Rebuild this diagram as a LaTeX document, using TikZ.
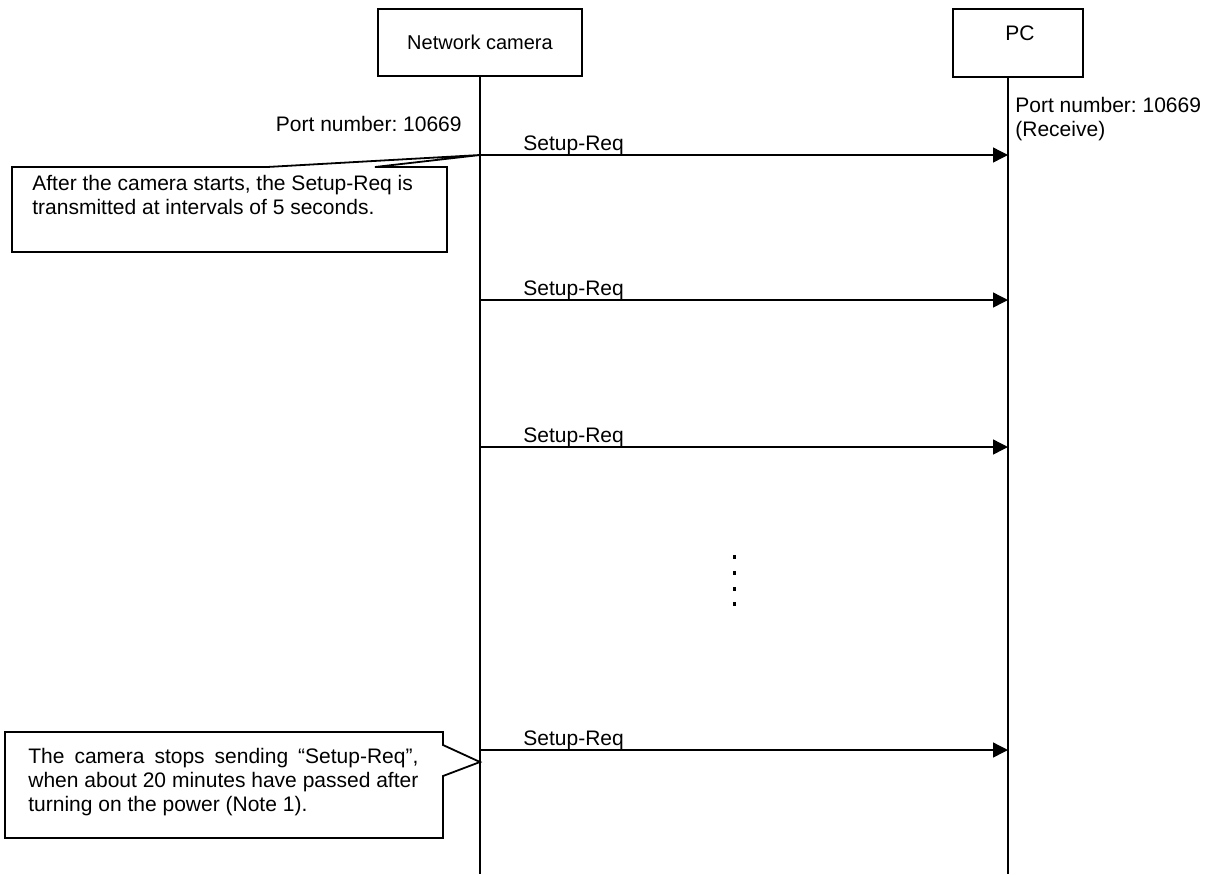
\documentclass[tikz,border=0pt]{standalone}
\usepackage{fontspec}
\setmainfont{Liberation Sans}
\frenchspacing
\usetikzlibrary{arrows.meta}
\tikzset{party/.style={draw,line width=1pt,minimum width=102pt,minimum height=33.5pt,inner sep=0pt},
life/.style={line width=1pt},
msg/.style={-{Triangle[length=7.5pt,width=7.5pt]},line width=.7pt},
note/.style={draw,line width=.9pt,line join=miter},
lab/.style={font=\fontsize{10.5}{12}\selectfont,inner sep=0pt}}

\begin{document}
\begin{tikzpicture}[x=.5pt,y=-.5pt]
\useasboundingbox (0,0) rectangle (1206,874);
% the two parties and their lifelines
\node[party] (cam) at (480,42.5) {Network camera};
\node[party,minimum width=65pt,minimum height=34pt] (pc) at (1018,43) {};
\node[lab] (pclab) at (1020,33) {PC};
\coordinate (cambot) at (480,874);
\coordinate (pcbot) at (1008,874);
\draw[life] (cam) -- (cambot);
\draw[life] (pc.south -| pcbot) -- (pcbot);
\node[lab,anchor=east] (portcam) at (462,124) {Port number: 10669};
\node[lab,anchor=north west,align=left] (portpc) at (1015,96.5) {Port number: 10669\\(Receive)};
% messages
\foreach \y [count=\i] in {155,300,447,750} {
  \coordinate (c\i) at (480,\y);
  \coordinate (p\i) at (1008,\y);
  \draw[msg] (c\i) -- (p\i);
  \node[lab,anchor=base west] (m\i) at (523,{\y-5}) {Setup-Req};
}
\foreach \y in {557,573,589,604}
  \fill (732.5,{\y-1.75}) rectangle (736,{\y+1.75});
% callouts
\draw[note] (12,167) -- (267,167) -- (c1) -- (375,167) -- (447,167) -- (447,252) -- (12,252) -- cycle;
\node[lab,anchor=north west,align=left] (note1) at (32,174.5) {After the camera starts, the Setup-Req is\\transmitted at intervals of 5 seconds.};
\coordinate (tip2) at (480,762);
\draw[note] (5,732) -- (443,732) -- (443,745) -- (tip2) -- (443,776) -- (443,838) -- (5,838) -- cycle;
\node[lab,anchor=north west,text width=195pt,align=justify] (note2) at (28,747.5) {The camera stops sending “Setup-Req”, when about 20 minutes have passed after turning on the power (Note 1).};
\end{tikzpicture}
\end{document}
